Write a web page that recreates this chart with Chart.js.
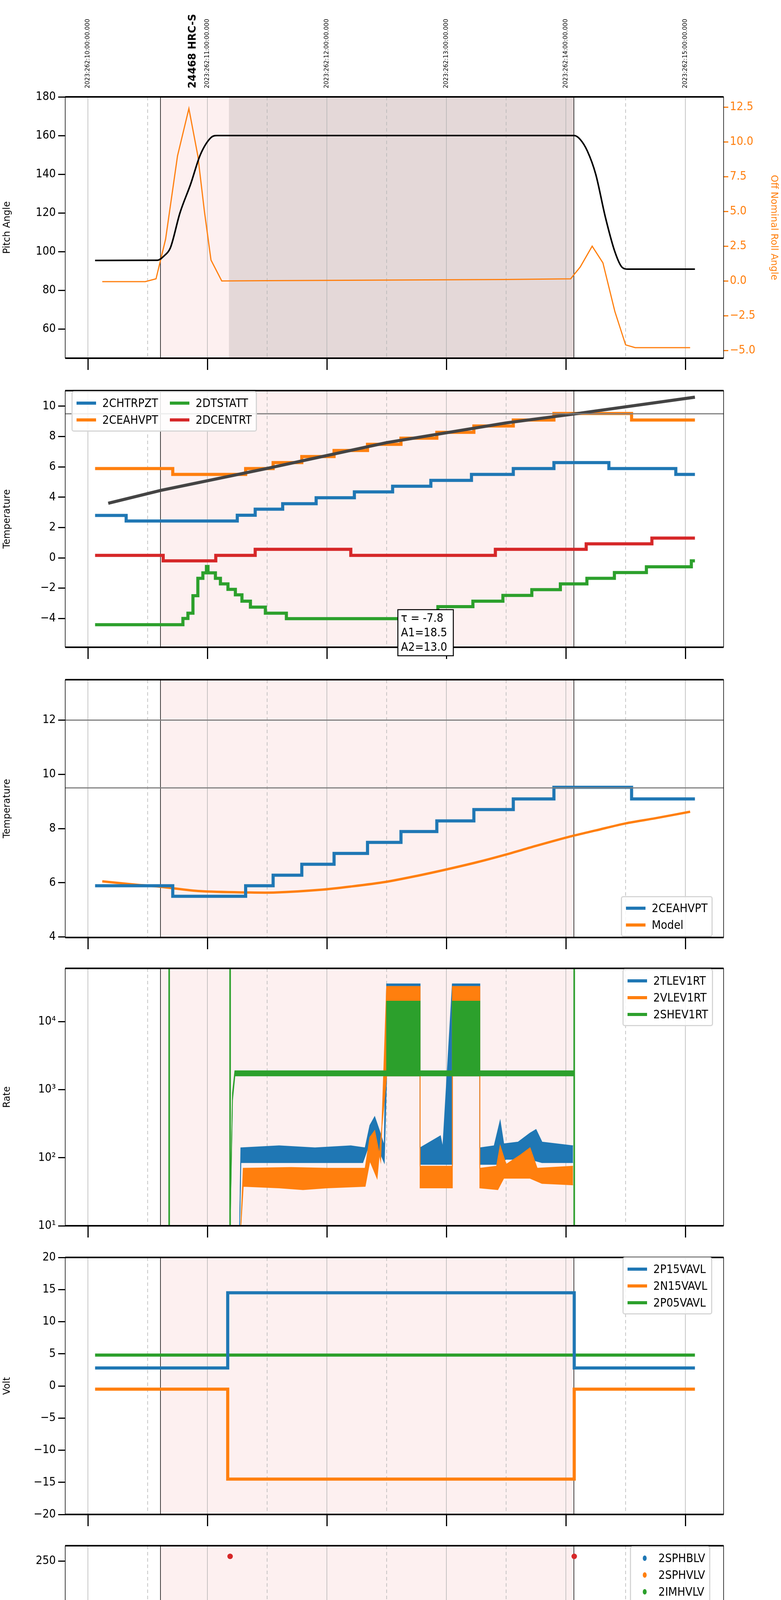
<!DOCTYPE html>
<html><head><meta charset="utf-8">
<script src="https://cdn.jsdelivr.net/npm/chart.js@4.4.1/dist/chart.umd.min.js"></script>
<style>
body{margin:0;background:#fff;width:2000px;height:6200px;position:relative;overflow:hidden}
.pn{position:absolute;left:0;width:2000px}
.lg{position:absolute;background:rgba(255,255,255,0.85);border:3px solid #d6d6d6;border-radius:6px;padding:6px 10px;font:30px "DejaVu Sans Condensed","DejaVu Sans",sans-serif;display:grid;column-gap:30px;row-gap:0}
.lg div{display:flex;align-items:center;height:43px;white-space:nowrap}
.lg i{display:inline-block;width:50px;height:8px;margin-right:16px}
.lg b{display:inline-block;width:10px;height:14px;border-radius:50%;margin:0 30px 0 20px}
</style></head><body>
<script>
// ---------- DATA ----------
const C = {b:'#1f77b4', o:'#ff7f0e', g:'#2ca02c', r:'#d62728'};
const xTicks = [6,6.5,7,7.5,8,8.5,9,9.5,10,10.5,11];
const hourLabels = ['06h','07h','08h','09h','10h','11h'];
const topLabels = ['2023:262:10:00:00.000','2023:262:11:00:00.000','2023:262:12:00:00.000','2023:262:13:00:00.000','2023:262:14:00:00.000','2023:262:15:00:00.000'];
const obsTitle = '24468 HRC-S';
const pinkSpan = [6.607, 10.067];
const darkSpan = [7.18, 10.067];
// panel 1
const pitchTicks = [60,80,100,120,140,160,180];
const rollTicks = [-5,-2.5,0,2.5,5,7.5,10,12.5];
const pitch = [[6.06,95.5],[6.58,95.6],[6.64,98],[6.69,102],[6.77,120],[6.86,135],[6.94,150],[7.03,159],[7.08,160],[10.07,160],[10.12,158],[10.18,152],[10.25,140],[10.33,118],[10.41,100],[10.47,92],[10.52,91],[11.08,91]];
const roll = [[6.12,-0.05],[6.48,-0.05],[6.57,0.15],[6.65,3],[6.75,9],[6.845,12.4],[6.92,9],[6.975,5],[7.03,1.5],[7.12,0.0],[7.5,0.02],[8,0.04],[8.5,0.06],[9,0.08],[9.5,0.1],[10.04,0.15],[10.12,1.0],[10.22,2.5],[10.31,1.3],[10.41,-2.2],[10.5,-4.6],[10.58,-4.8],[11.04,-4.8]];
// panel 2
const t2Ticks = [-4,-2,0,2,4,6,8,10];
const limit2 = 9.5;
const fitLine = [[6.17,3.6],[6.61,4.45],[7.5,5.9],[8.5,7.6],[9.5,8.9],[10.08,9.5],[11.08,10.6]];
const s2CHTRPZT = [[6.06,2.8],[6.32,2.43],[7.25,2.81],[7.40,3.21],[7.63,3.57],[7.91,3.96],[8.23,4.35],[8.55,4.72],[8.87,5.11],[9.21,5.5],[9.56,5.89],[9.90,6.28],[10.36,5.89],[10.92,5.5],[11.08,5.5]];
const s2CEAHVPT = [[6.06,5.89],[6.71,5.5],[7.32,5.89],[7.55,6.28],[7.79,6.68],[8.06,7.08],[8.34,7.49],[8.62,7.89],[8.92,8.28],[9.23,8.7],[9.56,9.09],[9.90,9.52],[10.55,9.09],[11.08,9.09]];
const s2DCENTRT = [[6.06,0.16],[6.63,-0.2],[7.07,0.16],[7.40,0.56],[8.20,0.16],[9.41,0.56],[10.17,0.92],[10.72,1.3],[11.08,1.3]];
const s2DTSTATT = [[6.06,-4.41],[6.795,-4.0],[6.837,-3.65],[6.879,-2.5],[6.92,-1.35],[6.962,-0.99],[6.992,-0.57],[7.005,-0.99],[7.025,-0.99],[7.067,-1.35],[7.109,-1.72],[7.172,-2.08],[7.234,-2.44],[7.289,-2.86],[7.36,-3.25],[7.485,-3.65],[7.661,-4.01],[8.929,-3.22],[9.222,-2.86],[9.473,-2.48],[9.715,-2.1],[9.954,-1.72],[10.176,-1.35],[10.406,-0.97],[10.674,-0.59],[11.05,-0.2],[11.08,-0.2]];
const fitText = ['τ = -7.8','A1=18.5','A2=13.0'];
// panel 3
const t3Ticks = [4,6,8,10,12];
const limits3 = [12, 9.5];
const model = [[6.12,6.05],[6.4,5.93],[6.61,5.85],[6.94,5.69],[7.36,5.64],[7.57,5.64],[7.95,5.74],[8.2,5.86],[8.49,6.03],[8.75,6.25],[8.99,6.48],[9.25,6.75],[9.49,7.03],[9.75,7.36],[10.04,7.71],[10.25,7.93],[10.5,8.19],[10.75,8.38],[11.04,8.62]];
// panel 4
const rateTicks = [10,100,1000,10000];
const rateLabels = ['10¹','10²','10³','10⁴'];
const tleUp = [[7.27,10],[7.28,140],[7.6,150],[7.9,140],[8.2,150],[8.32,140],[8.36,300],[8.4,400],[8.44,250],[8.48,150],[8.5,36000],[8.78,36000],[8.78,140],[8.95,210],[8.97,140],[9.05,36000],[9.28,36000],[9.28,140],[9.4,150],[9.45,350],[9.48,160],[9.6,170],[9.7,230],[9.75,260],[9.8,170],[10.06,150]];
const tleLo = [[7.27,10],[7.28,85],[8.3,85],[8.35,150],[8.42,150],[8.48,85],[8.5,1600],[8.78,1600],[8.78,80],[9.05,80],[9.05,1600],[9.28,1600],[9.28,80],[9.42,80],[9.5,95],[9.7,95],[9.8,85],[10.06,85]];
const vleUp = [[7.28,10],[7.3,70],[7.7,72],[8.0,70],[8.32,70],[8.36,200],[8.4,250],[8.45,90],[8.5,33000],[8.78,33000],[8.78,75],[9.05,75],[9.05,33000],[9.28,33000],[9.28,70],[9.42,75],[9.45,150],[9.5,80],[9.62,110],[9.7,140],[9.76,70],[10.06,75]];
const vleLo = [[7.28,10],[7.3,38],[7.6,36],[7.8,34],[8.0,36],[8.32,38],[8.36,90],[8.42,50],[8.5,1600],[8.78,1600],[8.78,36],[9.05,36],[9.05,1600],[9.28,1600],[9.28,36],[9.43,34],[9.48,50],[9.7,50],[9.8,42],[10.06,40]];
const sheUp = [[7.19,10],[7.21,900],[7.23,1900],[8.5,1900],[8.5,20000],[8.78,20000],[8.78,1900],[9.05,1900],[9.05,20000],[9.28,20000],[9.28,1900],[10.07,1900]];
const sheLo = [[7.19,10],[7.21,700],[7.23,1600],[10.07,1600]];
const sheLines = [[6.68,10],[6.68,60000],[6.68,null],[7.19,10],[7.19,60000],[7.19,null],[10.07,10],[10.07,60000]];
// panel 5
const voltTicks = [-20,-15,-10,-5,0,5,10,15,20];
const v2P15 = [[6.06,2.8],[7.17,14.5],[10.07,2.8],[11.08,2.8]];
const v2N15 = [[6.06,-0.5],[7.17,-14.5],[10.07,-0.5],[11.08,-0.5]];
const v2P05 = [[6.06,4.8],[11.08,4.8]];
// panel 6
const hvTicks = [0,50,100,150,200,250];
const hvSPHBLV = [[7.23,118],[7.235,102],[7.25,97],[7.26,92],[7.275,87],[7.285,82]];
const hvSPHBLVband = [[7.29,77],[10.06,77]];
const hvSPHVLV = [[7.23,127],[7.235,96],[7.25,91],[7.26,86],[7.27,80],[7.28,75],[8.52,127],[8.55,127],[8.58,127],[8.61,127],[8.64,127],[9.16,127],[9.23,127]];
const hvSPHVLVband = [[7.29,71],[10.06,71]];
const hvIMHVLV = [];
const hvIMHBLV = [[7.19,255],[10.07,255]];
// panel 7
const dtTicks = [0,2.5,5,7.5,10,12.5,15,17.5,20];
const dSPINATM = [[7.2,5.1],[7.23,4.6],[7.34,4.1],[7.47,3.7],[7.72,3.25],[9.09,3.65],[9.9,4.1],[10.07,4.1]];
const dSPHVATM = [[7.18,15.0],[7.37,15.3],[7.44,15.6],[7.52,15.9],[7.6,16.2],[7.68,16.4],[7.77,16.7],[7.86,17.0],[7.97,17.3],[8.08,17.6],[8.22,17.85],[8.37,18.15],[8.5,18.4],[8.78,18.7],[8.87,19.0],[9.07,19.3],[9.31,19.6],[9.56,19.9],[9.82,20.2],[10.07,20.2]];
const dIMINATM = [[7.2,1.05],[9.56,1.5],[10.07,1.5]];
const dIMHVATM = [[7.18,-0.44],[7.18,14.45],[7.81,14.7],[8.11,15.0],[8.38,15.3],[8.65,15.6],[8.9,15.8],[9.18,16.1],[9.43,16.4],[9.71,16.7],[9.98,16.95],[10.07,16.95],[10.07,-0.44],[10.07,null],[10.07,22],[10.07,-1]];
const dBlocksB = [[8.5,-0.44],[8.5,3.25],[8.78,3.25],[8.78,-0.44],[8.78,null],[9.14,-0.44],[9.14,3.65],[9.28,3.65],[9.28,-0.44]];
const dBlocksO = [[8.5,10.9],[8.5,18.3],[8.78,18.3],[8.78,10.9],[8.78,null],[9.15,11.4],[9.15,19.3],[9.26,19.3],[9.26,11.4],[9.26,null],[8.64,-0.44],[8.64,11]];
const dBlocksG = [[8.5,1.05],[8.5,3.3],[8.78,3.3],[8.78,1.05],[8.78,null],[9.14,1.05],[9.14,3.75],[9.28,3.75],[9.28,1.05]];
const dBlocksR = [[8.5,15.3],[8.5,18.5],[8.62,18.5],[8.62,18.8],[8.78,18.8],[8.78,15.5],[8.78,null],[9.07,15.8],[9.07,19.4],[9.28,19.4],[9.28,16.0]];
// panel 8
const feaTicks = [-8,-6,-4,-2,0,2];
const fFHTRMZT = [[6.06,-8.38],[6.51,-8.76],[7.33,-8.4],[7.47,-8.0],[7.58,-7.6],[7.70,-7.2],[7.81,-6.8],[7.93,-6.4],[8.05,-6.0],[8.16,-5.6],[8.28,-5.2],[8.40,-4.85],[8.6,-4.4],[8.7,-4.0],[8.78,-3.6],[8.89,-3.25],[9.03,-2.9],[9.2,-2.55],[9.29,-2.15],[9.43,-1.75],[9.57,-1.4],[9.71,-1.0],[9.86,-0.65],[10.0,-0.25],[10.16,0.1],[10.41,-0.25],[10.83,-0.62],[11.08,-0.62]];
const fFRADPYT = [[7.56,-9.6],[7.56,-9.2],[7.66,-8.8],[7.77,-8.4],[7.88,-8.0],[8.0,-7.6],[8.11,-7.2],[8.24,-6.8],[8.36,-6.4],[8.49,-6.0],[8.65,-5.6],[8.75,-5.2],[8.89,-4.8],[9.03,-4.4],[9.18,-4.05],[9.31,-3.65],[9.45,-3.25],[9.61,-2.9],[9.75,-2.5],[9.9,-2.1],[10.06,-1.75],[10.27,-2.1],[10.49,-2.5],[10.85,-2.9],[11.08,-2.9]];
const fFEPRATM = [[7.2,-7.45],[7.23,-7.0],[7.26,-6.6],[7.32,-6.2],[7.37,-5.8],[7.44,-5.4],[7.52,-5.0],[7.62,-4.6],[7.72,-4.2],[7.83,-3.8],[7.94,-3.4],[8.05,-3.0],[8.18,-2.6],[8.30,-2.2],[8.43,-1.85],[8.77,-1.0],[8.85,-0.6],[8.98,-0.2],[9.29,0.6],[9.45,1.0],[9.59,1.45],[9.79,1.9],[9.95,2.4]];
const fFE00ATM = [[7.18,-9.6],[7.18,-6.7],[7.29,-6.35],[7.38,-5.95],[7.47,-5.6],[7.57,-5.25],[7.64,-4.85],[7.73,-4.5],[7.81,-4.15],[7.90,-3.8],[7.99,-3.45],[8.09,-3.1],[8.18,-2.75],[8.26,-2.4],[8.36,-2.1],[8.46,-1.75],[8.78,-0.8],[8.86,-0.45],[8.96,-0.1],[9.05,0.4],[9.29,0.8],[9.39,1.1],[9.49,1.4],[9.62,1.75],[9.73,2.05],[9.85,2.4]];
const fBlocksG = [[8.5,-4.65],[8.5,-1.8],[8.78,-1.0],[8.78,-4.65],[8.78,null],[9.16,-4.65],[9.16,0.2],[9.24,0.4],[9.24,-4.65]];
const fBlocksR = [[8.5,-1.75],[8.5,2.5],[8.78,2.5],[8.78,-0.8],[8.78,null],[9.05,0.4],[9.05,2.5],[9.28,2.5],[9.28,0.6]];
const fRedLines = [[8.58,-9.6],[8.58,2.5],[8.58,null],[8.62,-9.6],[8.62,2.5],[8.62,null],[10.07,-9.6],[10.07,2.5]];

// ---------- HELPERS ----------
const FONT = '"DejaVu Sans Condensed","DejaVu Sans",sans-serif';
Chart.defaults.font.family = FONT;
Chart.defaults.animation = false;
const P = a => a.map(p => ({x:p[0], y:p[1]}));
const XMIN = 5.81, XMAX = 11.32;
const LEFTW = 167, RIGHTW = 147;

const deco = {
  id:'deco',
  beforeDatasetsDraw(ch, a, o){
    const {ctx, chartArea:A} = ch; const x = ch.scales.x;
    ctx.save();
    ctx.beginPath(); ctx.rect(A.left, A.top, A.right-A.left, A.bottom-A.top); ctx.clip();
    ctx.fillStyle = '#fdf0f0';
    ctx.fillRect(x.getPixelForValue(pinkSpan[0]), A.top, x.getPixelForValue(pinkSpan[1])-x.getPixelForValue(pinkSpan[0]), A.bottom-A.top);
    if (o.dark){ ctx.fillStyle = '#e4d8d8';
      ctx.fillRect(x.getPixelForValue(darkSpan[0]), A.top, x.getPixelForValue(darkSpan[1])-x.getPixelForValue(darkSpan[0]), A.bottom-A.top); }
    xTicks.forEach(v => { const px = x.getPixelForValue(v);
      ctx.beginPath(); ctx.strokeStyle = '#b4b4b4'; ctx.lineWidth = 1.5;
      ctx.setLineDash(Number.isInteger(v) ? [] : [9,7]);
      ctx.moveTo(px, A.top); ctx.lineTo(px, A.bottom); ctx.stroke(); });
    ctx.setLineDash([]);
    pinkSpan.forEach(v => { const px = x.getPixelForValue(v);
      ctx.beginPath(); ctx.strokeStyle = '#000'; ctx.lineWidth = 1.5;
      ctx.moveTo(px, A.top); ctx.lineTo(px, A.bottom); ctx.stroke(); });
    ctx.restore();
  },
  afterDraw(ch, a, o){
    const {ctx, chartArea:A} = ch; const x = ch.scales.x;
    ctx.save();
    ctx.strokeStyle = '#000';
    ctx.lineWidth = 1.5; ctx.beginPath();
    ctx.moveTo(A.left, A.top); ctx.lineTo(A.left, A.bottom);
    ctx.moveTo(A.right, A.top); ctx.lineTo(A.right, A.bottom); ctx.stroke();
    ctx.lineWidth = 4; ctx.beginPath();
    ctx.moveTo(A.left, A.top); ctx.lineTo(A.right, A.top);
    ctx.moveTo(A.left, A.bottom); ctx.lineTo(A.right, A.bottom); ctx.stroke();
    if (o.top){
      ctx.fillStyle = '#000'; ctx.font = '15px "DejaVu Sans"'; ctx.textAlign = 'left'; ctx.textBaseline = 'middle';
      topLabels.forEach((t,i) => { const px = x.getPixelForValue(6+i);
        ctx.save(); ctx.translate(px, A.top-22); ctx.rotate(-Math.PI/2); ctx.fillText(t, 0, 0); ctx.restore(); });
      ctx.font = 'bold 26px "DejaVu Sans"';
      ctx.save(); ctx.translate(x.getPixelForValue(6.88), A.top-22); ctx.rotate(-Math.PI/2); ctx.fillText(obsTitle, 0, 0); ctx.restore();
    }
    if (o.box){
      const y = ch.scales.y; const bx = x.getPixelForValue(8.594), by = y.getPixelForValue(-3.42);
      ctx.font = '30px ' + FONT; ctx.textAlign = 'left'; ctx.textBaseline = 'top';
      const w = 142, h = 118;
      ctx.fillStyle = '#fff'; ctx.fillRect(bx, by, w, h);
      ctx.lineWidth = 2.5; ctx.strokeRect(bx, by, w, h);
      ctx.fillStyle = '#000';
      fitText.forEach((t,i) => ctx.fillText(t, bx+8, by+8+i*37));
    }
    ctx.restore();
  }
};
Chart.register(deco);

function xScale(showLabels, padB){
  return { type:'linear', min:XMIN, max:XMAX, position:'bottom',
    afterBuildTicks: s => { s.ticks = xTicks.map(v => ({value:v})); },
    afterFit: s => { s.height = padB; },
    border:{display:false},
    grid:{drawOnChartArea:false, drawTicks:true, tickLength:30, tickWidth:3,
      tickColor: c => (c.tick && Number.isInteger(c.tick.value)) ? '#000' : 'rgba(0,0,0,0)'},
    ticks:{display:showLabels, autoSkip:false, maxRotation:0, color:'#000', padding:2,
      font: c => (c.tick && Number.isInteger(c.tick.value)) ? {size:30} : {size:18},
      callback: v => Number.isInteger(v) ? ['', hourLabels[v-6]] : '30'},
    title:{display:showLabels, text:'2023-09-19 (262)', font:{size:32}, color:'#000', padding:{top:0}}
  };
}
function yScale(ticks, min, max, title, fmt, extra){
  return Object.assign({ type:'linear', min, max, position:'left',
    afterBuildTicks: s => { s.ticks = ticks.map(v => ({value:v})); },
    afterFit: s => { s.width = LEFTW; },
    border:{display:false},
    grid:{drawOnChartArea:false, tickLength:18, tickWidth:3, tickColor:'#000'},
    ticks:{color:'#000', font:{size:30}, padding:6, callback: fmt || (v => String(v).replace('-', '-'))},
    title:{display:true, text:title, color:'#000', font:{family:'"DejaVu Sans"', size:24}, padding:{bottom:4}}
  }, extra || {});
}
function line(data, color, width, extra){
  return Object.assign({data:P(data), borderColor:color, backgroundColor:color, borderWidth:width,
    pointRadius:0, fill:false, stepped:false, tension:0, spanGaps:false}, extra || {});
}
function block(data, color, order){
  return {data:P(data), borderColor:color, backgroundColor:color, borderWidth:3, pointRadius:0, fill:'shape', spanGaps:false, order:order||0};
}
function panel(top, padTop, H, padB, datasets, scales, decoOpts, rightPad){
  const div = document.createElement('div'); div.className = 'pn';
  const h = padTop + H + padB;
  div.style.top = top + 'px'; div.style.height = h + 'px';
  const cv = document.createElement('canvas'); cv.width = 2000; cv.height = h;
  cv.style.width = '2000px'; cv.style.height = h + 'px';
  div.appendChild(cv); document.body.appendChild(div);
  new Chart(cv, { type:'line', data:{datasets},
    options:{ responsive:false, devicePixelRatio:1, animation:false, parsing:true,
      layout:{padding:{top:padTop, right:rightPad===undefined?RIGHTW:rightPad, left:0, bottom:0}},
      scales, plugins:{legend:{display:false}, tooltip:{enabled:false}, deco:decoOpts||{}} } });
}
function legend(items, left, top, cols, dots){
  const d = document.createElement('div'); d.className = 'lg';
  d.style.left = left + 'px'; d.style.top = top + 'px';
  d.style.gridTemplateColumns = 'repeat(' + cols + ', auto)';
  d.innerHTML = items.map(it => '<div>' + (dots ? '<b style="background:'+it[1]+'"></b>' : '<i style="background:'+it[1]+'"></i>') + it[0] + '</div>').join('');
  document.body.appendChild(d);
}
const hline = (v, w) => line([[XMIN, v],[XMAX, v]], '#808080', w || 3);
const f1 = v => v.toFixed(1).replace('-', '−');
const f0 = v => String(v).replace('-', '−');

// ---------- PANELS ----------
// 1 pitch / roll
panel(0, 248, 669, 50, [
  line(pitch, '#000', 4, {tension:0.35, cubicInterpolationMode:'monotone', yAxisID:'y'}),
  line(roll, C.o, 3, {yAxisID:'y2'})
], { x:xScale(false,50), y:yScale(pitchTicks, 45, 180, 'Pitch Angle', f0),
  y2:{type:'linear', position:'right', min:-5.56, max:13.24,
    afterBuildTicks: s => { s.ticks = rollTicks.map(v => ({value:v})); },
    afterFit: s => { s.width = RIGHTW; }, border:{display:false},
    grid:{drawOnChartArea:false, tickLength:12, tickWidth:3, tickColor:C.o},
    ticks:{color:C.o, font:{size:30}, padding:4, callback:f1},
    title:{display:true, text:'Off Nominal Roll Angle', color:C.o, font:{family:'"DejaVu Sans"', size:24}}}
}, {dark:true, top:true}, 0);

// 2 temperatures
panel(976, 10, 671, 50, [
  hline(limit2),
  line(fitLine, '#444', 8),
  line(s2CHTRPZT, C.b, 8, {stepped:'before'}),
  line(s2CEAHVPT, C.o, 8, {stepped:'before'}),
  line(s2DTSTATT, C.g, 8, {stepped:'before'}),
  line(s2DCENTRT, C.r, 8, {stepped:'before'})
], { x:xScale(false,50), y:yScale(t2Ticks, -5.9, 11.03, 'Temperature', f0) }, {box:true});
legend([['2CHTRPZT',C.b],['2DTSTATT',C.g],['2CEAHVPT',C.o],['2DCENTRT',C.r]], 183, 1001, 2);

// 3 model
panel(1716, 10, 674, 50, [
  hline(limits3[0]), hline(limits3[1]),
  line(s2CEAHVPT, C.b, 8, {stepped:'before'}),
  line(model, C.o, 6, {tension:0.3})
], { x:xScale(false,50), y:yScale(t3Ticks, 3.98, 13.49, 'Temperature', f0) });
legend([['2CEAHVPT',C.b],['Model',C.o]], 1590, 2294, 1);

// 4 rates
panel(2455, 10, 673, 50, [
  line(tleLo, C.b, 2, {order:3}), line(tleUp, C.b, 2, {fill:'-1', order:3}),
  line(vleLo, C.o, 2, {order:2}), line(vleUp, C.o, 2, {fill:'-1', order:2}),
  line(sheLo, C.g, 2, {order:1}), line(sheUp, C.g, 2, {fill:'-1', order:1}),
  line(sheLines, C.g, 4, {order:0})
], { x:xScale(false,50), y:yScale(rateTicks, 10, 60800, 'Rate', v => rateLabels[rateTicks.indexOf(v)], {type:'logarithmic'}) });
legend([['2TLEV1RT',C.b],['2VLEV1RT',C.o],['2SHEV1RT',C.g]], 1594, 2480, 1);

// 5 volts
panel(3195, 10, 672, 50, [
  line(v2P15, C.b, 8, {stepped:'before'}),
  line(v2N15, C.o, 8, {stepped:'before'}),
  line(v2P05, C.g, 8, {stepped:'before'})
], { x:xScale(false,50), y:yScale(voltTicks, -20, 20, 'Volt', f0) });
legend([['2P15VAVL',C.b],['2N15VAVL',C.o],['2P05VAVL',C.g]], 1594, 3218, 1);

// 6 HV monitor
const dots = (d, c) => ({data:P(d), showLine:false, pointRadius:7, pointBorderWidth:0, pointBackgroundColor:c, borderColor:c});
panel(3933, 10, 674, 50, [
  dots(hvSPHBLV, C.b), line(hvSPHBLVband, C.b, 15, {borderCapStyle:'round'}),
  dots(hvSPHVLV, C.o), line(hvSPHVLVband, C.o, 15, {borderCapStyle:'round'}),
  dots(hvIMHVLV, C.g), dots(hvIMHBLV, C.r)
], { x:xScale(false,50), y:yScale(hvTicks, 0, 266, 'HV Monitor', f0) });
legend([['2SPHBLV',C.b],['2SPHVLV',C.o],['2IMHVLV',C.g],['2IMHBLV',C.r]], 1613, 3958, 1, true);

// 7 detector temp
panel(4672, 10, 674, 50, [
  line(dSPINATM, C.b, 8, {stepped:'before', order:4}), block(dBlocksB, C.b, 4),
  line(dSPHVATM, C.o, 8, {stepped:'before', order:3}), block(dBlocksO, C.o, 3),
  line(dIMINATM, C.g, 8, {stepped:'before', order:2}), block(dBlocksG, C.g, 2),
  line(dIMHVATM, C.r, 8, {stepped:'before', order:1}), block(dBlocksR, C.r, 1)
], { x:xScale(false,50), y:yScale(dtTicks, -0.44, 21.07, 'Detector Temp', f1) });
legend([['2SPINATM',C.b],['2SPHVATM',C.o],['2IMINATM',C.g],['2IMHVATM',C.r]], 1590, 4695, 1);

// 8 FEA temp
panel(5410, 10, 670, 120, [
  line(fFHTRMZT, C.b, 8, {stepped:'before', order:4}),
  line(fFRADPYT, C.o, 8, {stepped:'before', order:3}),
  line(fFEPRATM, C.g, 8, {stepped:'before', order:2}), block(fBlocksG, C.g, 2),
  line(fFE00ATM, C.r, 8, {stepped:'before', order:1}), block(fBlocksR, C.r, 1),
  line(fRedLines, C.r, 6, {order:1})
], { x:xScale(true,120), y:yScale(feaTicks, -9.47, 2.31, 'FEA Temp', f0) });
legend([['2FHTRMZT',C.b],['2FRADPYT',C.o],['2FEPRATM',C.g],['2FE00ATM',C.r]], 1587, 5901, 1);
</script>
</body></html>
